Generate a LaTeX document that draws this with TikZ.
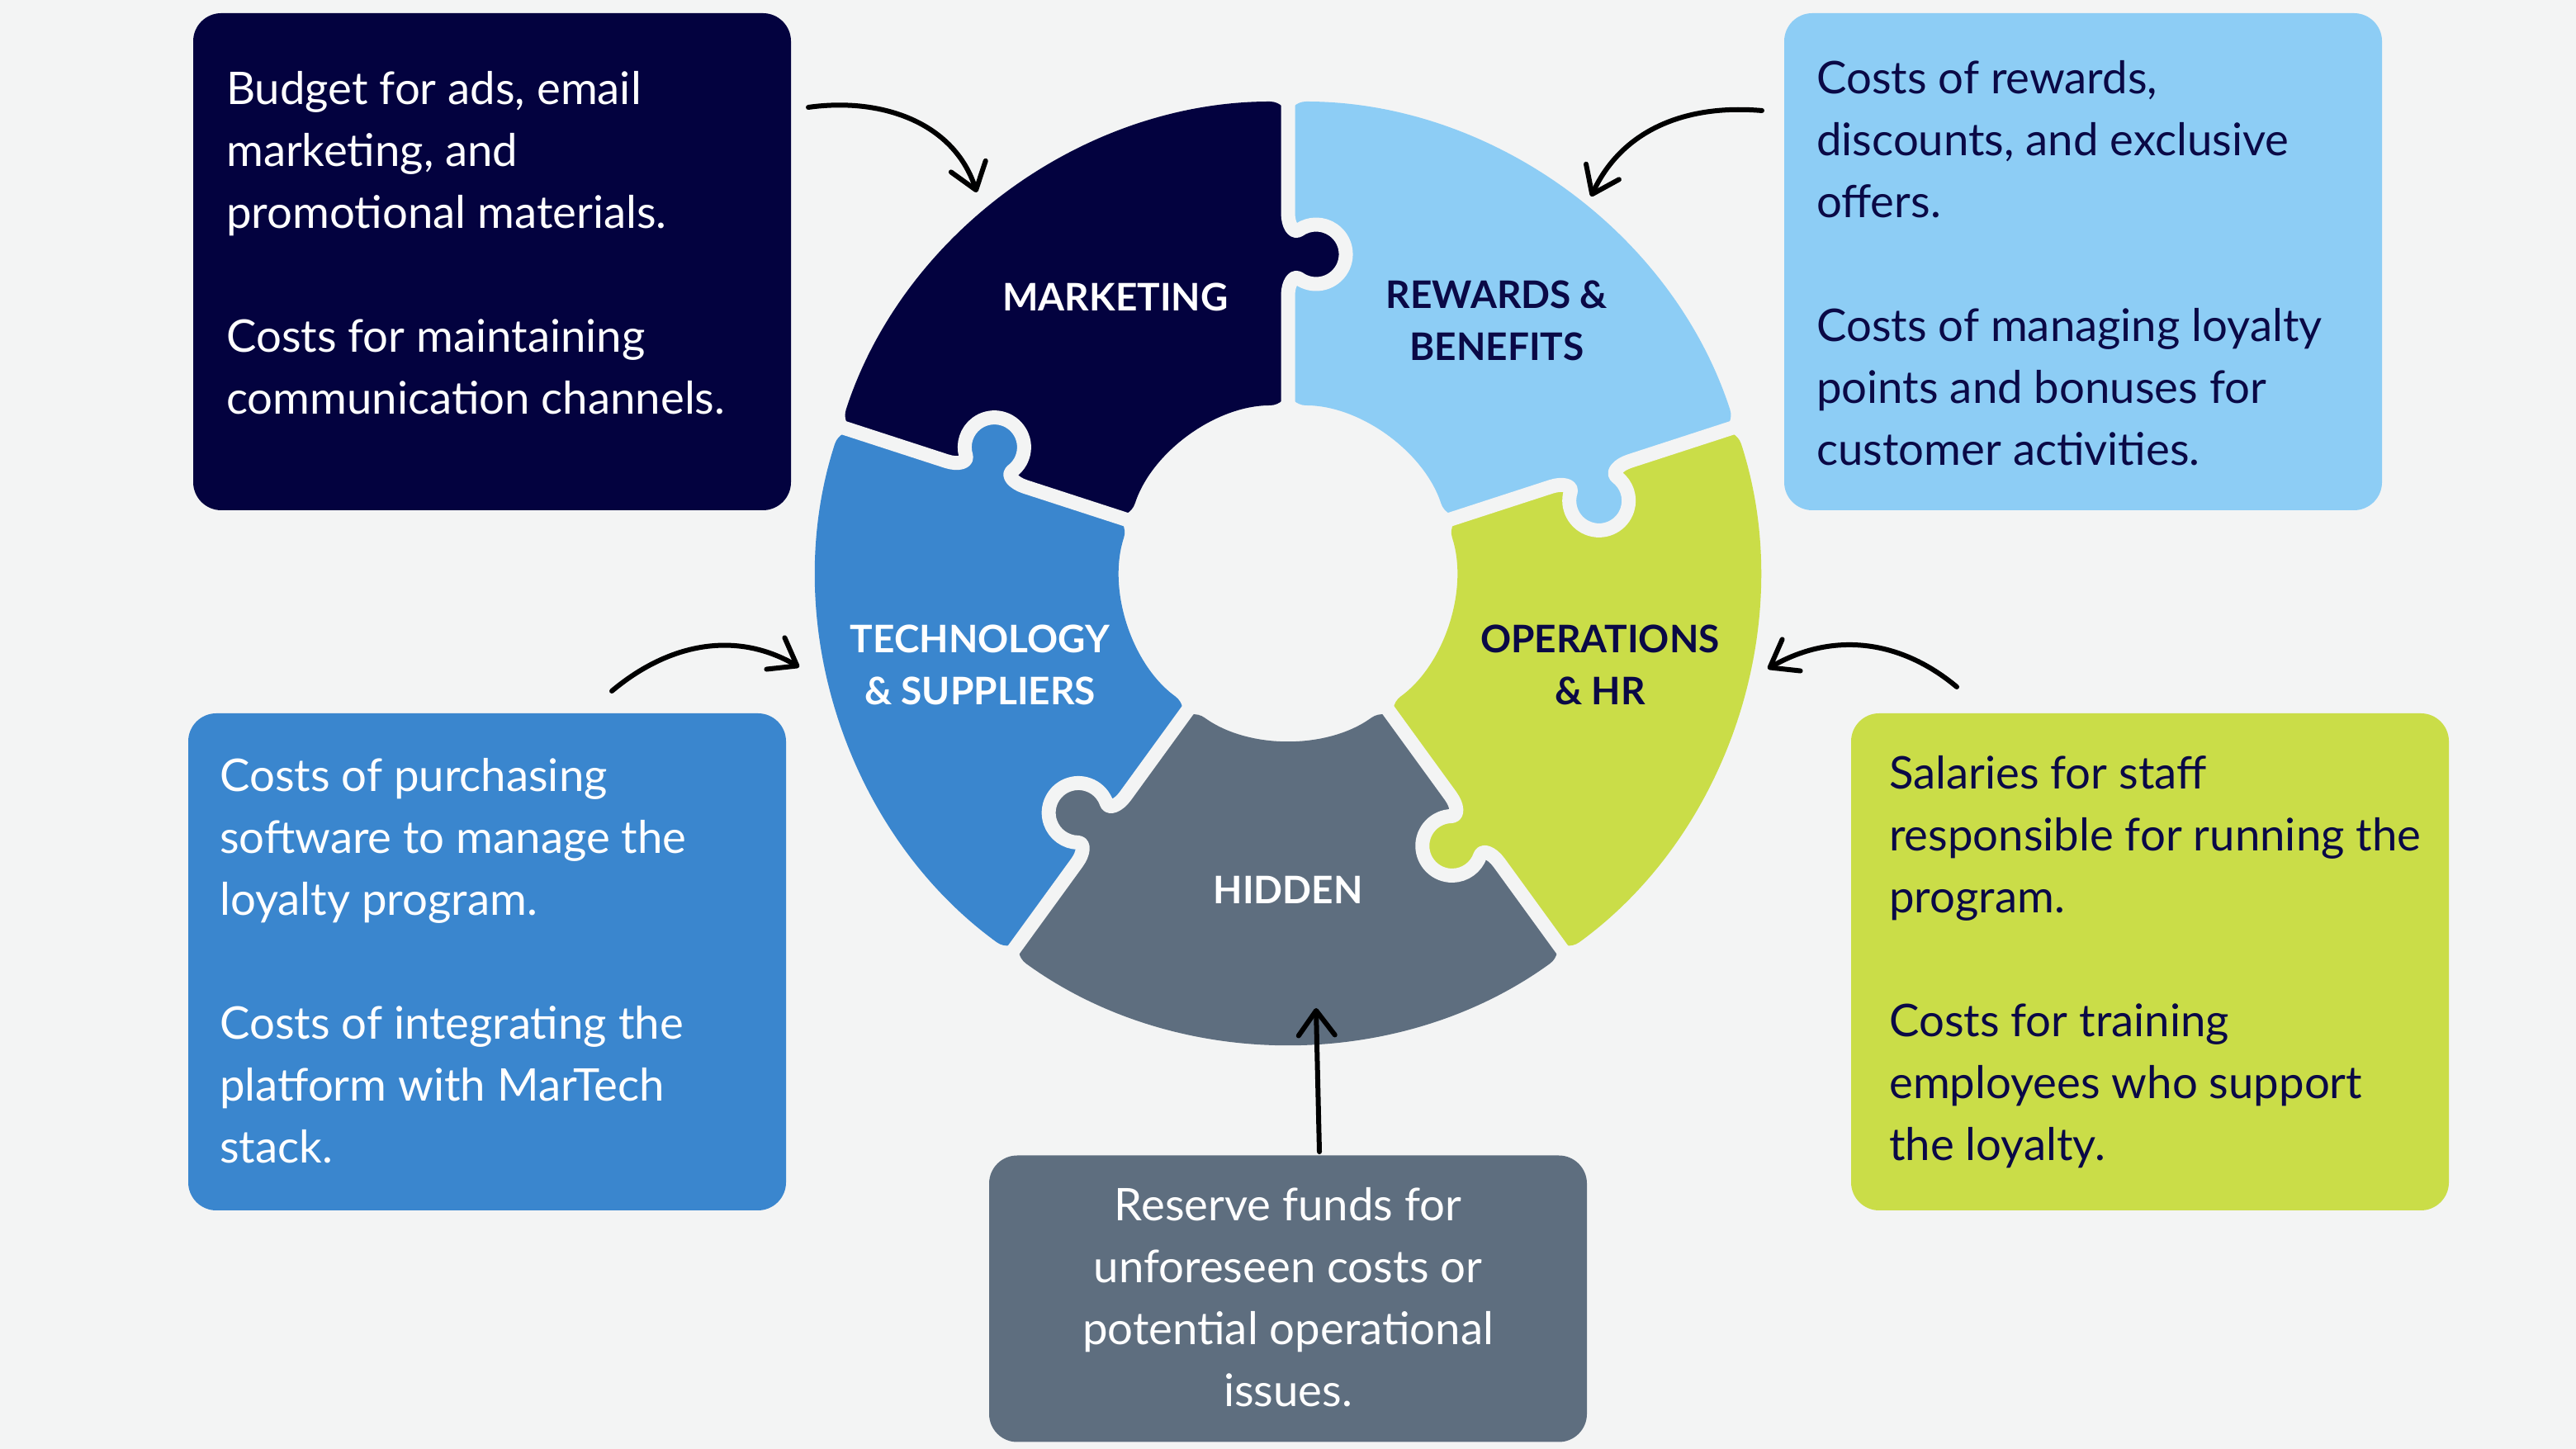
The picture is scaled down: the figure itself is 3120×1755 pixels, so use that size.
\documentclass[tikz,border=0pt]{standalone}
\usepackage{fontspec}
\setmainfont{Lato}
\usetikzlibrary{arrows.meta}

\definecolor{bgcol}{HTML}{F3F4F4}
\definecolor{mkcol}{HTML}{03023F}
\definecolor{rwcol}{HTML}{8DCDF5}
\definecolor{tccol}{HTML}{3A86CE}
\definecolor{opcol}{HTML}{CADD48}
\definecolor{hdcol}{HTML}{5E6E7F}
\definecolor{inkcol}{HTML}{0A0946}

\tikzset{
	box/.style={rounded corners=34pt, minimum width=724pt, minimum height=602pt, inner sep=0pt},
	body/.style={anchor=base west, inner sep=0pt, font=\fontsize{54.5}{75}\selectfont},
	heading/.style={anchor=base, inner sep=0pt, font=\fontsize{46}{63}\selectfont\bfseries},
	gap/.style={draw=bgcol, line width=17pt, line cap=round, line join=round},
	pointer/.style={->, line width=6pt, line cap=round, line join=round},
}

\begin{document}
\begin{tikzpicture}[x=1pt, y=1pt, >={Straight Barb[length=30pt, width=44pt, round]}]
	\fill[bgcol] (0,0) rectangle (3120,1755);
	\useasboundingbox (0,0) rectangle (3120,1755);

	% text boxes
	\node[box, fill=mkcol] (mkbox) at (596,1438) {};
	\node[box, fill=rwcol] (rwbox) at (2523,1438) {};
	\node[box, fill=tccol] (tcbox) at (590,590) {};
	\node[box, fill=opcol] (opbox) at (2604,590) {};
	\node[box, fill=hdcol, minimum height=347pt] (hdbox) at (1560,182) {};

	\node[body, text=white] (mktext) at (274,1628) {\parbox[t]{680pt}{Budget for ads, email\\marketing, and\\promotional materials.\\[75pt]Costs for maintaining\\communication channels.}};
	\node[body, text=inkcol] (rwtext) at (2200,1641) {\parbox[t]{680pt}{Costs of rewards,\\discounts, and exclusive\\offers.\\[75pt]Costs of managing loyalty\\points and bonuses for\\customer activities.}};
	\node[body, text=white] (tctext) at (266,796) {\parbox[t]{680pt}{Costs of purchasing\\software to manage the\\loyalty program.\\[75pt]Costs of integrating the\\platform with MarTech\\stack.}};
	\node[body, text=inkcol] (optext) at (2288,799) {\parbox[t]{680pt}{Salaries for staff\\responsible for running the\\program.\\[75pt]Costs for training\\employees who support\\the loyalty.}};
	\node[body, anchor=base, text=white] (hdtext) at (1560,276) {\parbox[t]{700pt}{\centering Reserve funds for\\unforeseen costs or\\potential operational\\issues.}};

	% puzzle ring
	\begin{scope}[shift={(1560,1062)}]
		\foreach \a/\col in {90/mkcol, 162/tccol, 234/hdcol, 306/opcol, 18/rwcol}
			\fill[\col, rounded corners=22pt] (\a:570) arc[start angle=\a, end angle=\a+72, radius=570]
				-- (\a+72:202) arc[start angle=\a+72, end angle=\a, radius=202] -- cycle;
		% tabs and cuts
		\foreach \a/\col in {90/mkcol, 162/tccol, 234/hdcol, 306/opcol, 18/rwcol}{
			\begin{scope}[rotate=\a, yscale=-1]
				\fill[\col] (335,-5) -- (335,0) .. controls (350,0) and (360.1,6.8) .. (355.5,13.4)
					arc[start angle=215, end angle=-35, radius=36]
					.. controls (409.9,6.8) and (420,0) .. (435,0) -- (435,-5) -- cycle;
				\draw[gap] (160,0) -- (335,0) .. controls (350,0) and (360.1,6.8) .. (355.5,13.4)
					arc[start angle=215, end angle=-35, radius=36]
					.. controls (409.9,6.8) and (420,0) .. (435,0) -- (588,0);
			\end{scope}
		}
	\end{scope}

	\node[heading, text=white] (mkhead) at (1351,1378) {MARKETING};
	\node[heading, text=inkcol] (rwhead) at (1813,1381) {\parbox[t]{400pt}{\centering REWARDS \&\\BENEFITS}};
	\node[heading, text=white] (tchead) at (1187,964) {\parbox[t]{400pt}{\centering TECHNOLOGY\\\& SUPPLIERS}};
	\node[heading, text=inkcol] (ophead) at (1938,964) {\parbox[t]{400pt}{\centering OPERATIONS\\\& HR}};
	\node[heading, text=white] (hdhead) at (1560,660) {HIDDEN};

	% pointers
	\coordinate (mkfrom) at (979,1625);
	\coordinate (mkto) at (1183,1522);
	\coordinate (rwfrom) at (2134,1621);
	\coordinate (rwto) at (1927,1517);
	\coordinate (tcfrom) at (741,918);
	\coordinate (tcto) at (968,947);
	\coordinate (opfrom) at (2370,923);
	\coordinate (opto) at (2141,945);
	\coordinate (hdfrom) at (1598,360);
	\coordinate (hdto) at (1594,534);

	\draw[pointer] (mkfrom) to[out=8, in=108] (mkto);
	\draw[pointer] (rwfrom) to[out=175, in=65] (rwto);
	\draw[pointer] (tcfrom) to[out=40, in=150] (tcto);
	\draw[pointer] (opfrom) to[out=140, in=30] (opto);
	\draw[pointer] (hdfrom) -- (hdto);
\end{tikzpicture}
\end{document}
